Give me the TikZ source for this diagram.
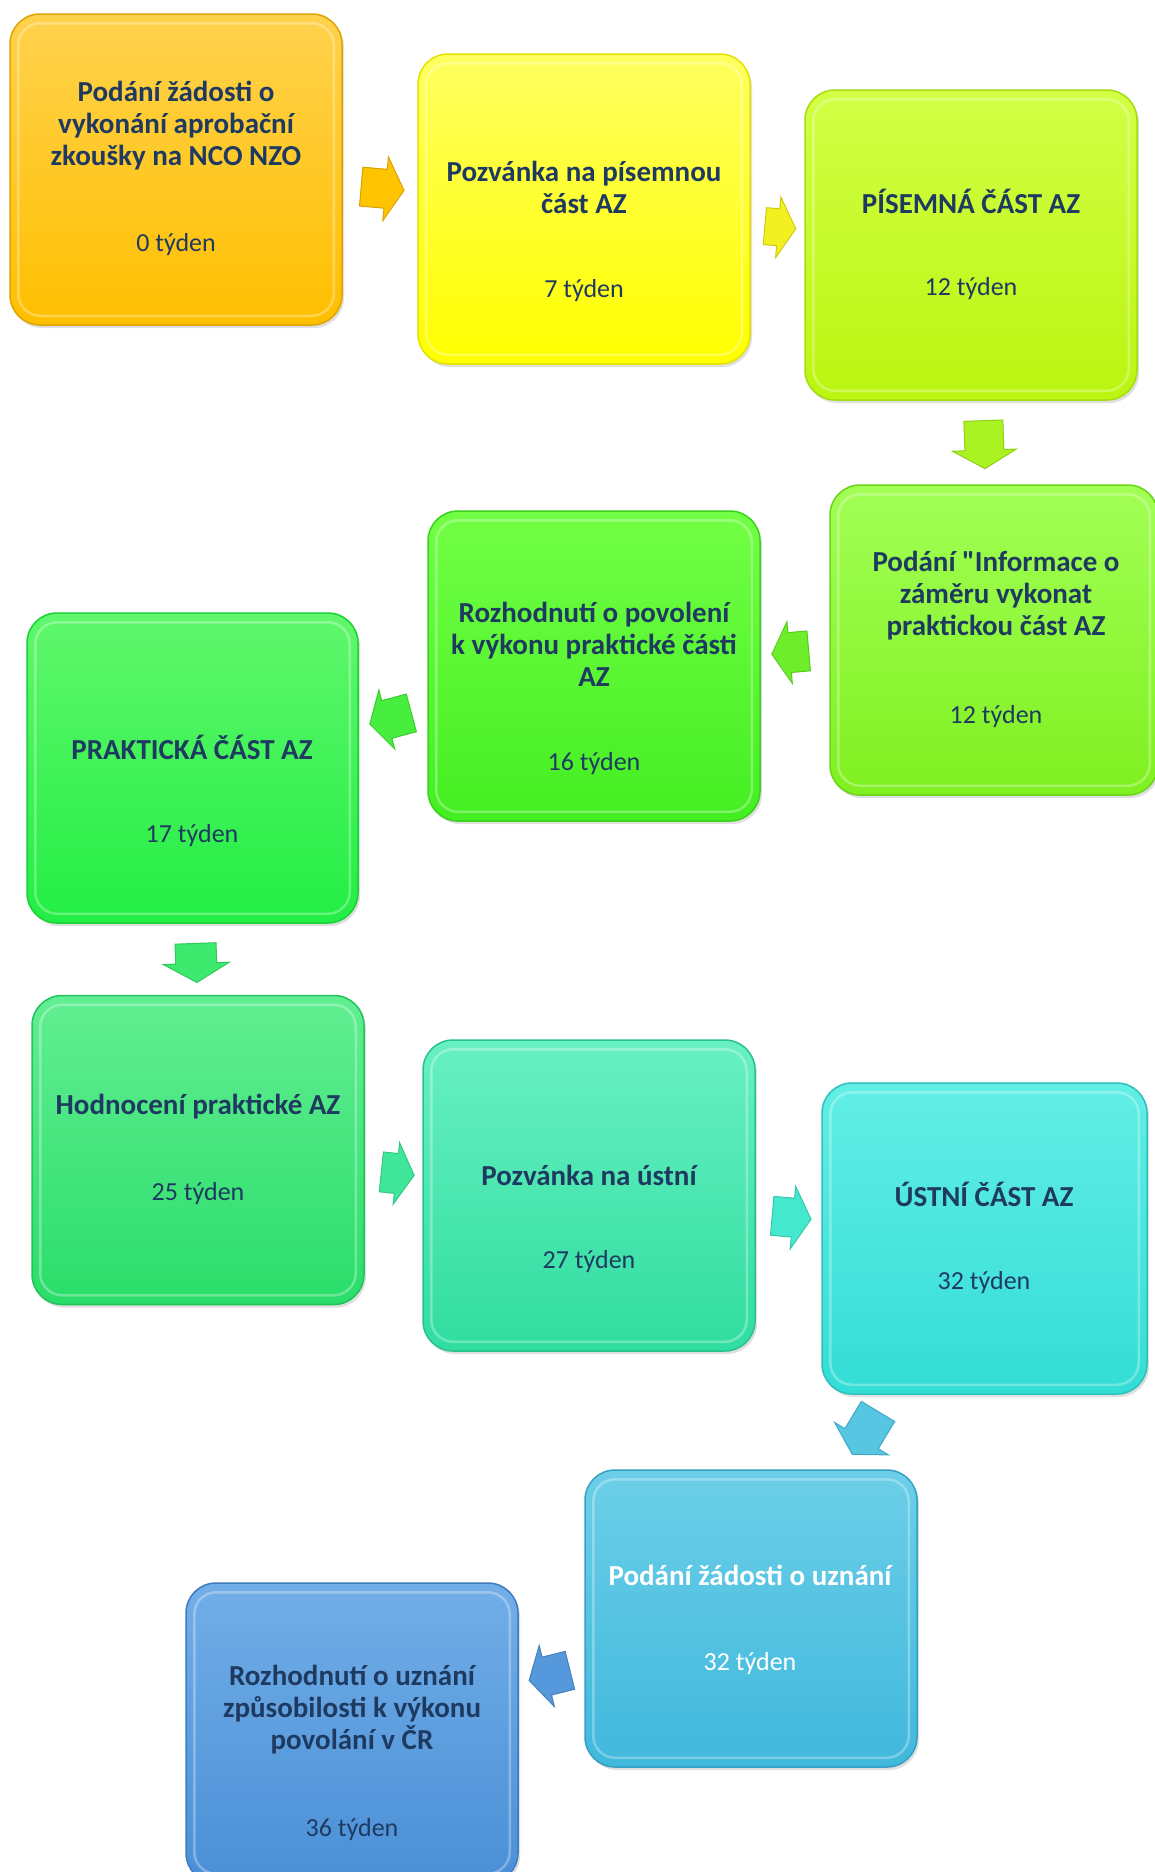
\documentclass[tikz,border=0pt]{standalone}
\usepackage{fontspec}
\setmainfont{Carlito}[Ligatures=TeXOff]
\usetikzlibrary{shapes.arrows,shadows}
\definecolor{txt}{HTML}{1F3A60}
\tikzset{
  box/.style n args={3}{/utils/exec={\definecolor{bxt}{HTML}{#1}\definecolor{bxb}{HTML}{#2}\definecolor{bxd}{HTML}{#3}},
     rectangle, rounded corners=30pt, top color=bxt, bottom color=bxb,
     draw=bxd, line width=1.5pt, inner sep=0pt,
     drop shadow={shadow xshift=2pt, shadow yshift=-3pt, opacity=0.25}},
  ttl/.style={font=\fontsize{29}{32}\selectfont\bfseries, text=txt, align=center},
  wk/.style={font=\fontsize{26}{30}\selectfont, text=txt},
  blk/.style n args={2}{/utils/exec={\definecolor{arf}{HTML}{#1}\definecolor{ard}{HTML}{#2}},
     single arrow, fill=arf, draw=ard, line width=1pt, inner sep=0pt,
     single arrow tip angle=120, text depth=0pt},
  bevel/.style={draw=white, draw opacity=0.3, line width=2.5pt, rounded corners=22pt},
}
\newcommand\bevelbox[1]{\draw[bevel] ([shift={(9pt,-10pt)}]#1.north west) rectangle ([shift={(-9pt,10pt)}]#1.south east);}
\begin{document}
\begin{tikzpicture}[x=1pt,y=1pt]
\useasboundingbox[fill=white] (0,0) rectangle (1155,-1872);
% boxes
\node[box={FFD24D}{FFBF00}{E0A400}, minimum width=332pt, minimum height=311pt] (b1) at (176,-169.5) {};
\node[box={FFFF60}{FFFF00}{E2E200}, minimum width=332pt, minimum height=310pt] (b2) at (584,-209) {};
\node[box={D2FF45}{BBF510}{A6DC10}, minimum width=332pt, minimum height=310pt] (b3) at (971,-245) {};
\node[box={A2FF55}{7FF020}{6CD418}, minimum width=328pt, minimum height=310pt] (b4) at (994,-640) {};
\node[box={72FF45}{44EE22}{38D21C}, minimum width=332pt, minimum height=310pt] (b5) at (594,-666) {};
\node[box={60F76C}{22EE44}{1CD03A}, minimum width=331pt, minimum height=310pt] (b6) at (192.5,-768) {};
\node[box={62EE92}{2ADD6A}{22C25C}, minimum width=332pt, minimum height=309pt] (b7) at (198,-1150) {};
\node[box={68F0C2}{30DDA0}{28C28C}, minimum width=332pt, minimum height=311pt] (b8) at (589,-1195.5) {};
\node[box={62EEE6}{33DDD5}{2AC2BA}, minimum width=325pt, minimum height=311pt] (b9) at (984.5,-1238.5) {};
\node[box={6CCFE8}{40B8DC}{36A0C2}, minimum width=332pt, minimum height=297pt] (b10) at (751,-1618.5) {};
\node[box={72AEE8}{4A8FD6}{3E7CBE}, minimum width=332pt, minimum height=300pt] (b11) at (352,-1733) {};
\foreach \b in {b1,b2,b3,b4,b5,b6,b7,b8,b9,b10,b11} {\bevelbox{\b}}
% texts
\node[ttl] (t1) at (176,-126) {Podání žádosti o\\vykonání aprobační\\zkoušky na NCO NZO};
\node[wk] (w1) at (176,-245) {0 týden};
\node[ttl] (t2) at (584,-187) {Pozvánka na písemnou\\část AZ};
\node[wk] (w2) at (584,-291) {7 týden};
\node[ttl] (t3) at (971,-201) {PÍSEMNÁ ČÁST AZ};
\node[wk] (w3) at (971,-289) {12 týden};
\node[ttl] (t4) at (996,-596) {Podání "Informace o\\záměru vykonat\\praktickou část AZ};
\node[wk] (w4) at (996,-717) {12 týden};
\node[ttl] (t5) at (594,-644) {Rozhodnutí o povolení\\k výkonu praktické části\\AZ};
\node[wk] (w5) at (594,-764) {16 týden};
\node[ttl] (t6) at (192,-747) {PRAKTICKÁ ČÁST AZ};
\node[wk] (w6) at (192,-836) {17 týden};
\node[ttl] (t7) at (198,-1107) {Hodnocení praktické AZ};
\node[wk] (w7) at (198,-1194) {25 týden};
\node[ttl] (t8) at (589,-1175) {Pozvánka na ústní};
\node[wk] (w8) at (589,-1262) {27 týden};
\node[ttl] (t9) at (984,-1194) {ÚSTNÍ ČÁST AZ};
\node[wk] (w9) at (984,-1283) {32 týden};
\node[ttl, text=white] (t10) at (750,-1575) {Podání žádosti o uznání};
\node[wk, text=white] (w10) at (750,-1664) {32 týden};
\node[ttl] (t11) at (352,-1710) {Rozhodnutí o uznání\\způsobilosti k výkonu\\povolání v ČR};
\node[wk] (w11) at (352,-1830) {36 týden};
% block arrows
\node[blk={FFC400}{D9A200}, rotate=-5, minimum height=43pt, minimum width=63pt, text height=38pt, single arrow head extend=12.5pt] (a1) at (377,-188) {};
\node[blk={F2F020}{CFCC10}, rotate=-5, minimum height=31pt, minimum width=60pt, text height=36pt, single arrow head extend=12pt] (a2) at (775,-227) {};
\node[blk={AAF222}{90D018}, rotate=-88, minimum height=48pt, minimum width=63pt, text height=38pt, single arrow head extend=12.5pt] (a3) at (984,-439) {};
\node[blk={6EEE2A}{58CC20}, rotate=185, minimum height=37pt, minimum width=61pt, text height=39pt, single arrow head extend=11pt] (a4) at (796,-652) {};
\node[blk={48EE3E}{38CC30}, rotate=195, minimum height=43pt, minimum width=60pt, text height=38pt, single arrow head extend=11pt] (a5) at (396,-717) {};
\node[blk={3DEA6E}{30C85C}, rotate=-88, minimum height=39pt, minimum width=65pt, text height=40pt, single arrow head extend=12.5pt] (a6) at (196,-957) {};
\node[blk={40E69A}{34C884}, rotate=-6, minimum height=33pt, minimum width=61pt, text height=39pt, single arrow head extend=11pt] (a7) at (392,-1173) {};
\node[blk={44E8CC}{36C8AE}, rotate=-5, minimum height=39pt, minimum width=62pt, text height=38pt, single arrow head extend=12pt] (a8) at (786,-1217) {};
\node[blk={56C6E2}{44A8C4}, rotate=239, minimum height=50pt, minimum width=62pt, text height=38pt, single arrow head extend=12pt] (a9) at (868,-1428) {};
\node[blk={5599DC}{4680BC}, rotate=194, minimum height=42pt, minimum width=62pt, text height=38pt, single arrow head extend=12pt] (a10) at (555,-1674) {};
\end{tikzpicture}
\end{document}
